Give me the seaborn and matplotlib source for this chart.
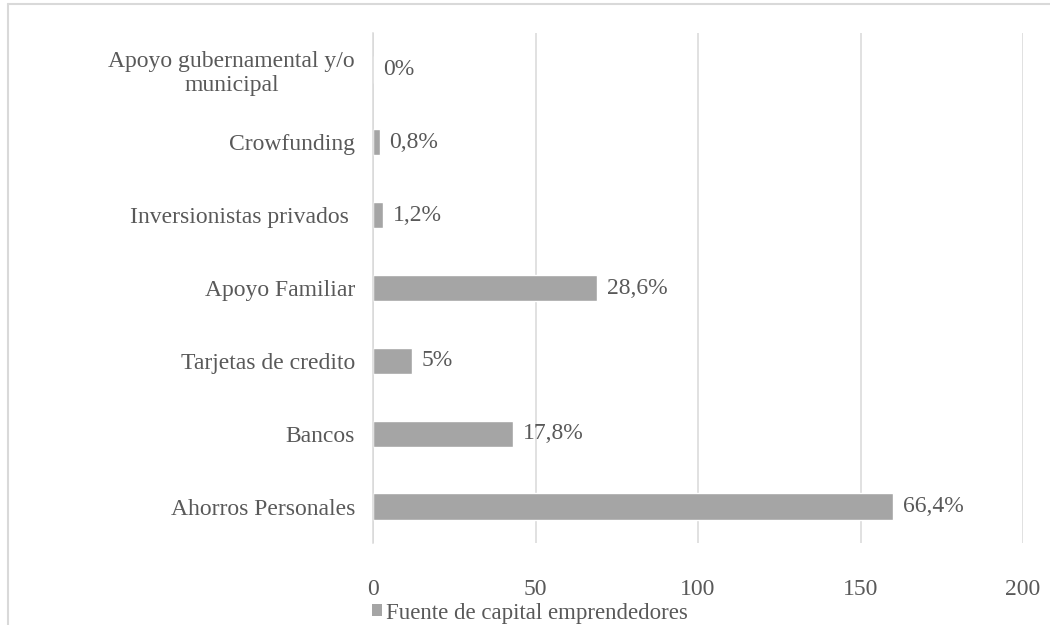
import matplotlib
matplotlib.use("Agg")
import matplotlib.pyplot as plt
import seaborn as sns
import pandas as pd
from matplotlib.lines import Line2D
from matplotlib.patches import Patch

# datos
categorias = [
    "Apoyo gubernamental y/o\nmunicipal",
    "Crowfunding",
    "Inversionistas privados ",
    "Apoyo Familiar",
    "Tarjetas de credito",
    "Bancos",
    "Ahorros Personales",
]
valores = [0, 2, 3, 69, 12, 43, 160]
etiquetas = ["0%", "0,8%", "1,2%", "28,6%", "5%", "17,8%", "66,4%"]
serie = "Fuente de capital emprendedores"

sns.set_theme(style="white")
plt.rcParams["font.family"] = ["Liberation Serif", "DejaVu Serif"]

GRIS_TXT = "#595959"
GRIS_BAR = "#A5A5A5"
GRIS_LIN = "#D9D9D9"

df = pd.DataFrame({"categoria": categorias, "valor": valores})

fig = plt.figure(figsize=(10.5, 6.25), dpi=100)
ax = fig.add_axes([373 / 1050, 1 - 543 / 625, 650 / 1050, 510 / 625])

sns.barplot(data=df, x="valor", y="categoria", orient="h",
            color=GRIS_BAR, saturation=1, width=0.36, ax=ax)

ax.bar_label(ax.containers[0], labels=etiquetas, padding=7,
             fontsize=17, color=GRIS_TXT)

ax.set_xlim(0, 200)
ax.set_xticks([0, 50, 100, 150, 200])
ax.set_xlabel("")
ax.set_ylabel("")
ax.grid(axis="x", color=GRIS_LIN, linewidth=1.1)
ax.set_axisbelow(True)
for s in ["top", "right", "bottom"]:
    ax.spines[s].set_visible(False)
ax.spines["left"].set_color(GRIS_LIN)
ax.spines["left"].set_linewidth(1.1)

ax.tick_params(axis="y", length=0, pad=13, labelsize=17, labelcolor=GRIS_TXT)
ax.tick_params(axis="x", length=0, pad=26, labelsize=17, labelcolor=GRIS_TXT)
for t in ax.get_yticklabels():
    t.set_multialignment("center")

# leyenda abajo
fig.legend(handles=[Patch(facecolor=GRIS_BAR, edgecolor="none", label=serie)],
           loc="center left", bbox_to_anchor=(372 / 1050, 1 - 613 / 625),
           frameon=False, fontsize=16.5, labelcolor=GRIS_TXT,
           handlelength=0.45, handleheight=0.45, handletextpad=0.15,
           borderpad=0, borderaxespad=0)

# marco del grafico
fig.add_artist(Line2D([8 / 1050, 1], [1 - 4 / 625, 1 - 4 / 625],
                      transform=fig.transFigure, color=GRIS_LIN, linewidth=1.5))
fig.add_artist(Line2D([8 / 1050, 8 / 1050], [0, 1 - 4 / 625],
                      transform=fig.transFigure, color=GRIS_LIN, linewidth=1.5))

fig.savefig("out.png", dpi=100)
